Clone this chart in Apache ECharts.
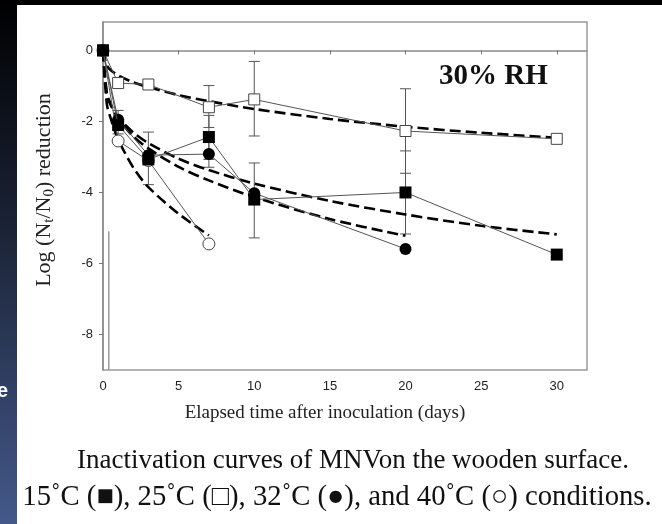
<!DOCTYPE html>
<html><head><meta charset="utf-8">
<script src="https://cdn.jsdelivr.net/npm/echarts@6/dist/echarts.min.js"></script>
<style>html,body{margin:0;padding:0;background:#fff}#c{width:662px;height:524px}</style>
</head><body><div id="c"></div>
<script>
// ---- data ----
const xTicks = [0, 5, 10, 15, 20, 25, 30];
const yTicks = [0, -2, -4, -6, -8];

const days15 = [0, 1, 3, 7, 10, 20, 30];
const vals15 = [0, -2.1, -3.07, -2.44, -4.2, -4.0, -5.75];
const days25 = [0, 1, 3, 7, 10, 20, 30];
const vals25 = [0, -0.92, -0.96, -1.6, -1.38, -2.27, -2.49];
const days32 = [0, 1, 3, 7, 10, 20];
const vals32 = [0, -1.95, -2.95, -2.92, -4.02, -5.59];
const days40 = [0, 1, 3, 7];
const vals40 = [0, -2.55, -3.1, -5.45];

const fitDays15 = [0, 0.25, 0.5, 1, 2, 3, 5, 7, 10, 15, 20, 25, 30];
const fit15 = [0, -1.24, -1.53, -1.88, -2.31, -2.61, -3.05, -3.37, -3.75, -4.24, -4.62, -4.94, -5.18];
const fitDays25 = [0, 0.25, 0.5, 1, 2, 3, 5, 7, 10, 15, 20, 25, 30];
const fit25 = [0, -0.42, -0.55, -0.7, -0.9, -1.03, -1.26, -1.43, -1.65, -1.93, -2.15, -2.32, -2.46];
const fitDays32 = [0, 0.25, 0.5, 1, 2, 3, 5, 7, 10, 15, 20];
const fit32 = [0, -1.2, -1.5, -1.91, -2.42, -2.76, -3.28, -3.66, -4.13, -4.75, -5.22];
const fitDays40 = [0, 0.25, 0.5, 1, 2, 3, 5, 7];
const fit40 = [0, -1.5, -1.9, -2.5, -3.3, -3.85, -4.6, -5.21];

const errX    = [1, 3, 7, 7, 7, 10, 10, 20, 20];
const errHigh = [-1.69, -2.3, -0.99, -1.83, -2.55, -0.31, -3.17, -1.08, -2.83];
const errLow  = [-2.35, -3.78, -2.17, -3.07, -3.29, -2.41, -5.28, -3.46, -5.17];

const strayX = [0.38, 0.38];
const strayY = [-5.09, -9];

const pair = (xs, ys) => xs.map((x, i) => [x, ys[i]]);

const chart = echarts.init(document.getElementById('c'));
const dataLine = { color: '#555', width: 1 };
const fitLine = { color: '#000', width: 2.6, type: [11, 5] };

chart.setOption({
  animation: false,
  backgroundColor: '#fff',
  grid: { left: 103, top: 22, width: 484, height: 348, show: true, borderColor: '#9a9a9a', borderWidth: 1.5, backgroundColor: 'transparent' },
  xAxis: {
    type: 'value', min: 0, max: 32,
    axisLine: { show: true, lineStyle: { color: '#8a8a8a', width: 1.5 } },
    axisTick: { show: true, customValues: xTicks, length: 4, lineStyle: { color: '#777' } },
    axisLabel: { customValues: xTicks, margin: 10, fontFamily: 'Liberation Sans', fontSize: 13, color: '#222' },
    splitLine: { show: false }
  },
  yAxis: {
    type: 'value', min: -9, max: 0.8,
    axisLine: { show: true, lineStyle: { color: '#8a8a8a', width: 1.5 } },
    axisTick: { show: true, customValues: yTicks, length: 4, lineStyle: { color: '#777' } },
    axisLabel: { customValues: yTicks, margin: 10, fontFamily: 'Liberation Sans', fontSize: 13, color: '#222' },
    splitLine: { show: false }
  },
  graphic: [
    { type: 'rect', left: 0, top: 0, shape: { width: 17, height: 524 }, style: { fill: new echarts.graphic.LinearGradient(0, 0, 0, 1, [{ offset: 0, color: '#000' }, { offset: 0.45, color: '#1b2438' }, { offset: 1, color: '#44598a' }]) }, z: 100 },
    { type: 'rect', left: 0, top: 0, shape: { width: 662, height: 5 }, style: { fill: '#000' }, z: 100 },
    { type: 'text', x: -3, y: 381, style: { text: 'e', fill: '#fff', font: 'bold 20px "Liberation Sans"', textVerticalAlign: 'alphabetic' }, z: 101 },
    { type: 'text', x: 439, y: 62.5, style: { text: '30% RH', fill: '#111', font: 'bold 29px "Liberation Serif"', textVerticalAlign: 'alphabetic' }, z: 50 },
    { type: 'text', x: 44, y: 190, rotation: Math.PI / 2, style: {
        text: '{m|Log (N}{s|t}{m|/N}{s|0}{m|) reduction}', fill: '#222', align: 'center', verticalAlign: 'middle',
        rich: { m: { fontFamily: 'Liberation Serif', fontSize: 22, lineHeight: 26, fill: '#222' }, s: { fontFamily: 'Liberation Serif', fontSize: 15, lineHeight: 26, padding: [10, 0, 0, 0], fill: '#222' } } }, z: 50 },
    { type: 'text', x: 325, y: 413, style: { text: 'Elapsed time after inoculation (days)', fill: '#222', font: '19px "Liberation Serif"', align: 'center', verticalAlign: 'middle' }, z: 50 },
    { type: 'text', x: 353, y: 461, style: { text: 'Inactivation curves of MNVon the wooden surface.', fill: '#111', font: '27px "Liberation Serif"', align: 'center', verticalAlign: 'middle' }, z: 50 },
    { type: 'text', x: 337, y: 497, style: { text: '15˚C (■), 25˚C (□), 32˚C (●), and 40˚C (○) conditions.', fill: '#111', font: '28.7px "Liberation Serif"', align: 'center', verticalAlign: 'middle' }, z: 50 }
  ],
  series: [
    { type: 'line', name: 'stray', data: pair(strayX, strayY), symbol: 'none', lineStyle: { color: '#999', width: 1.5 }, z: 1 },
    { type: 'custom', name: 'err', z: 2,
      data: errX.map((x, i) => [x, errHigh[i], errLow[i]]),
      renderItem: function (params, api) {
        const top = api.coord([api.value(0), api.value(1)]);
        const bot = api.coord([api.value(0), api.value(2)]);
        const h = 5.5;
        const st = { stroke: '#555', lineWidth: 1 };
        return { type: 'group', children: [
          { type: 'line', shape: { x1: top[0], y1: top[1], x2: bot[0], y2: bot[1] }, style: st },
          { type: 'line', shape: { x1: top[0] - h, y1: top[1], x2: top[0] + h, y2: top[1] }, style: st },
          { type: 'line', shape: { x1: bot[0] - h, y1: bot[1], x2: bot[0] + h, y2: bot[1] }, style: st }
        ] };
      } },
    { type: 'line', name: 'fit25', data: pair(fitDays25, fit25), symbol: 'none', smooth: 0.3, lineStyle: fitLine, z: 3 },
    { type: 'line', name: 'fit15', data: pair(fitDays15, fit15), symbol: 'none', smooth: 0.3, lineStyle: fitLine, z: 3 },
    { type: 'line', name: 'fit32', data: pair(fitDays32, fit32), symbol: 'none', smooth: 0.3, lineStyle: fitLine, z: 3 },
    { type: 'line', name: 'fit40', data: pair(fitDays40, fit40), symbol: 'none', smooth: 0.3, lineStyle: fitLine, z: 3 },
    { type: 'line', name: '40', data: pair(days40, vals40), symbol: 'circle', symbolSize: 12, lineStyle: dataLine, itemStyle: { color: '#fff', borderColor: '#444', borderWidth: 1 }, z: 4 },
    { type: 'line', name: '25', data: pair(days25, vals25), symbol: 'rect', symbolSize: 11, lineStyle: dataLine, itemStyle: { color: '#fff', borderColor: '#444', borderWidth: 1 }, z: 4 },
    { type: 'line', name: '32', data: pair(days32, vals32), symbol: 'circle', symbolSize: 12, lineStyle: dataLine, itemStyle: { color: '#000', borderColor: '#000', borderWidth: 0 }, z: 5 },
    { type: 'line', name: '15', data: pair(days15, vals15), symbol: 'rect', symbolSize: 12, lineStyle: dataLine, itemStyle: { color: '#000', borderColor: '#000', borderWidth: 0 }, z: 6 }
  ]
});
</script></body></html>
